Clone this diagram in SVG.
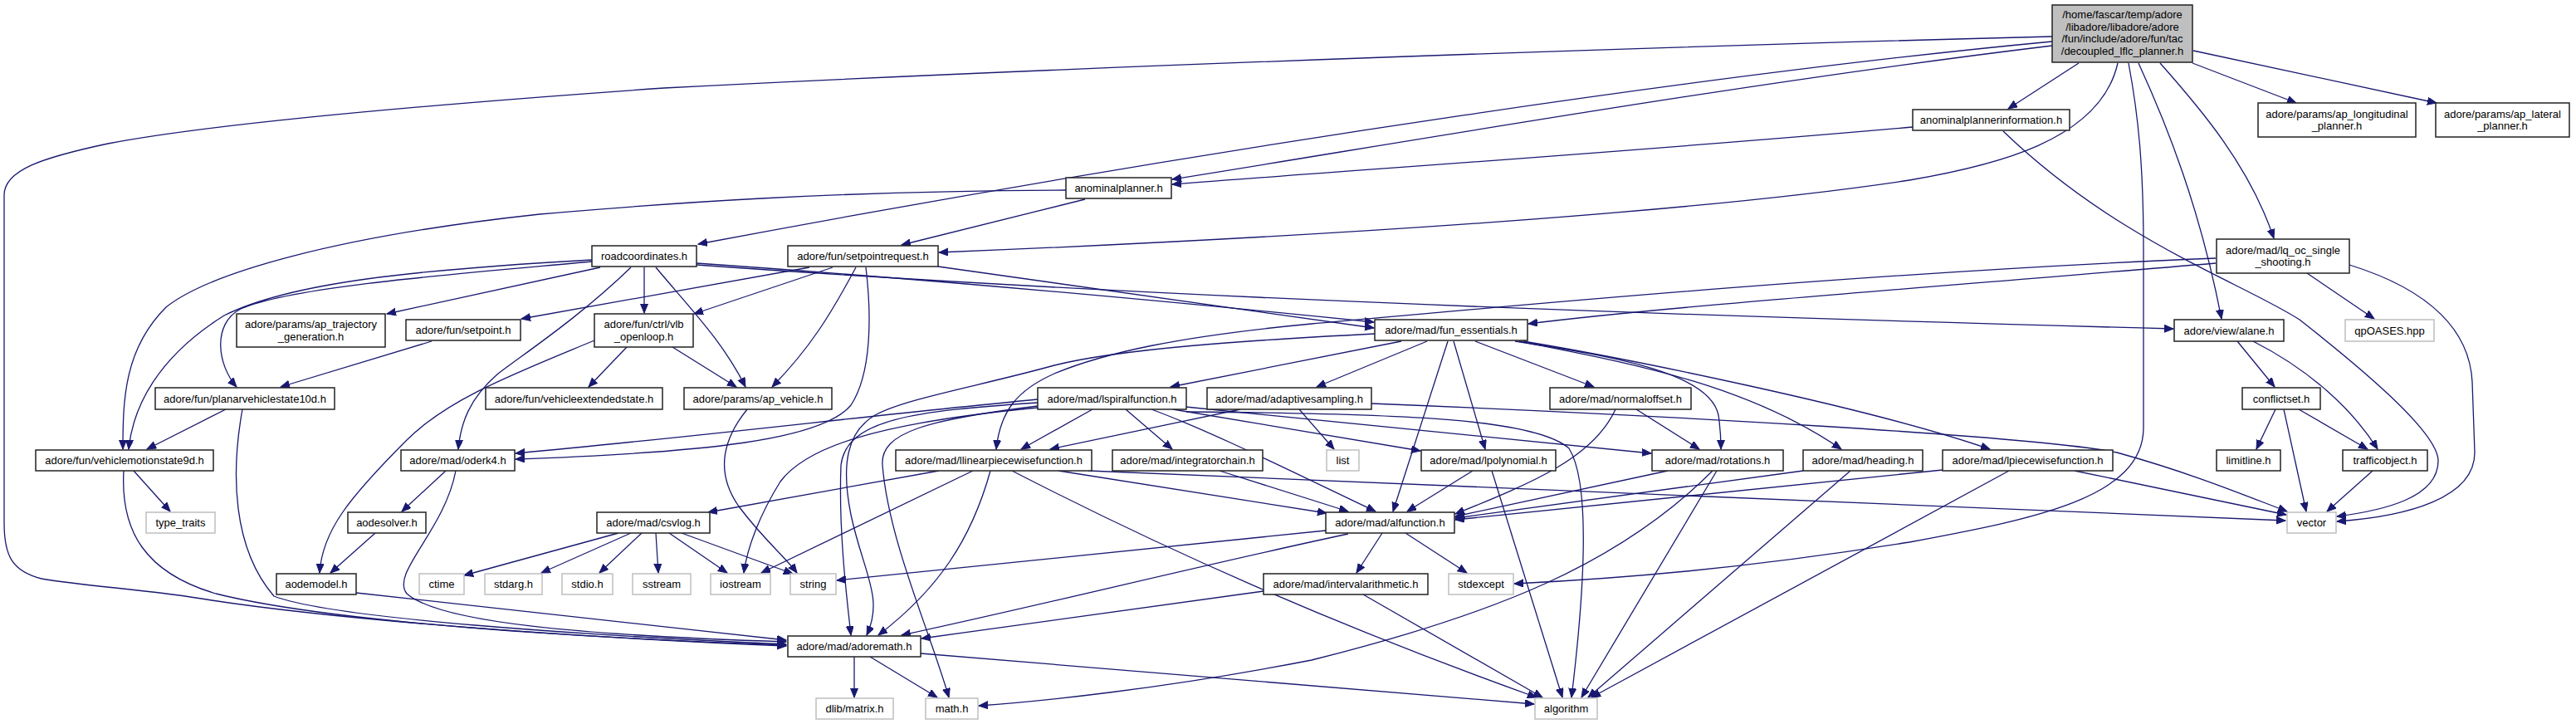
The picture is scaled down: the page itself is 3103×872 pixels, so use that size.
<svg xmlns="http://www.w3.org/2000/svg" width="3103" height="872" viewBox="0 0 3103 872">
<style>
.e{fill:none;stroke:#191970;stroke-width:1.3;marker-end:url(#a)}
.n rect{fill:#fff;stroke:#222;stroke-width:1.5}
.g rect{fill:#fff;stroke:#bfbfbf;stroke-width:1.5}
.r rect{fill:#bfbfbf;stroke:#222;stroke-width:1.5}
text{font-family:"Liberation Sans",Arial,sans-serif;font-size:13px;fill:#000;text-anchor:middle}
</style>
<defs>
<marker id="a" markerUnits="userSpaceOnUse" markerWidth="12" markerHeight="10" refX="11" refY="4.5" orient="auto"><path d="M0,0 L11,4.5 L0,9 z" fill="#191970" stroke="#191970" stroke-width="1"/></marker>
</defs>
<rect width="3103" height="872" fill="#fff"/>
<g id="edges">
<path class="e" d="M2472,44 C2000,56 1300,80 800,106 C500,127 250,150 130,173 C50,190 5,205 5,235 L5,630 C5,670 15,688 50,697 C110,707 180,710 255,723 C420,748 700,768 947,778"/>
<path class="e" d="M2472,50 C2100,85 1500,170 841,294"/>
<path class="e" d="M2472,55 C2100,100 1700,170 1412,216"/>
<path class="e" d="M2304,153 C2000,180 1700,200 1412,222"/>
<path class="e" d="M2551,76 C2530,170 2400,200 2300,217 C2050,255 1600,285 1131,304"/>
<path class="e" d="M2504,76 L2419,131"/>
<path class="e" d="M2564,76 C2576,140 2582,200 2582,300 L2582,515 C2582,600 2450,625 2300,653 C2100,685 1950,697 1824,703"/>
<path class="e" d="M2576,76 C2610,150 2650,250 2676,384"/>
<path class="e" d="M2602,76 C2650,130 2710,200 2739,287"/>
<path class="e" d="M2641,76 L2766,124"/>
<path class="e" d="M2642,61 L2935,124"/>
<path class="e" d="M2413,158 C2550,290 2700,340 2770,385 C2840,440 2937,520 2937,555 C2937,600 2870,615 2815,622"/>
<path class="e" d="M1307,240 L1086,295"/>
<path class="e" d="M1284,229 C1000,230 800,245 650,258 C400,285 250,330 200,370 C150,420 148,480 148,541"/>
<path class="e" d="M713,313 C500,325 350,340 270,380 C190,430 160,490 155,541"/>
<path class="e" d="M713,315 C550,330 350,345 290,372 C255,390 262,440 285,466"/>
<path class="e" d="M723,322 L466,378"/>
<path class="e" d="M776,322 L776,377"/>
<path class="e" d="M760,322 C700,380 640,420 600,450 C565,480 555,510 552,541"/>
<path class="e" d="M790,322 C830,370 870,410 898,466"/>
<path class="e" d="M839,317 C1100,335 1400,362 1655,388"/>
<path class="e" d="M839,319 C1200,345 1700,372 2618,396"/>
<path class="e" d="M975,322 L628,384"/>
<path class="e" d="M1003,322 L836,378"/>
<path class="e" d="M1031,322 C1000,380 975,420 930,466"/>
<path class="e" d="M1043,322 C1050,380 1050,450 1025,488 C990,530 850,545 621,553"/>
<path class="e" d="M1130,321 L1655,395"/>
<path class="e" d="M520,411 L338,466"/>
<path class="e" d="M716,410 C620,450 540,480 490,530 C420,600 388,640 385,690"/>
<path class="e" d="M755,418 L709,466"/>
<path class="e" d="M810,418 L887,466"/>
<path class="e" d="M900,493 C870,530 862,570 890,610 C920,650 945,670 960,690"/>
<path class="e" d="M272,493 L177,541"/>
<path class="e" d="M292,493 C278,570 280,660 330,718 C400,745 700,765 947,776"/>
<path class="e" d="M161,567 L205,616"/>
<path class="e" d="M149,567 C145,640 175,690 260,715 C400,750 700,768 947,777"/>
<path class="e" d="M537,567 L484,616"/>
<path class="e" d="M549,567 C535,640 470,690 490,715 C530,750 700,765 947,773"/>
<path class="e" d="M452,642 L398,690"/>
<path class="e" d="M429,714 L947,771"/>
<path class="e" d="M745,642 L559,693"/>
<path class="e" d="M760,642 L652,690"/>
<path class="e" d="M773,642 L722,690"/>
<path class="e" d="M790,642 L793,690"/>
<path class="e" d="M806,642 L876,690"/>
<path class="e" d="M821,642 L955,691"/>
<path class="e" d="M1029,791 L1029,840"/>
<path class="e" d="M1048,791 L1129,840"/>
<path class="e" d="M1109,787 L1848,848"/>
<path class="e" d="M1250,485 C1100,495 1020,505 1013,560 C1010,640 1020,720 1025,765"/>
<path class="e" d="M1250,489 C1120,505 1060,520 1063,560 C1070,650 1120,760 1143,840"/>
<path class="e" d="M1250,491 C1050,510 970,540 940,580 C915,620 900,660 896,690"/>
<path class="e" d="M1250,481 C1050,500 850,525 621,546"/>
<path class="e" d="M1316,493 L1230,541"/>
<path class="e" d="M1356,493 L1412,541"/>
<path class="e" d="M1387,493 C1460,520 1560,570 1657,616"/>
<path class="e" d="M1413,493 L1711,543"/>
<path class="e" d="M1428,490 L1989,546"/>
<path class="e" d="M1429,496 C1700,498 1850,505 1890,540 C1915,580 1910,700 1893,840"/>
<path class="e" d="M1494,493 L1265,541"/>
<path class="e" d="M1565,493 L1607,541"/>
<path class="e" d="M1652,486 C2000,500 2450,525 2550,545 C2640,570 2700,595 2755,616"/>
<path class="e" d="M1131,567 L853,617"/>
<path class="e" d="M1172,567 L917,690"/>
<path class="e" d="M1193,567 C1170,650 1130,710 1058,765"/>
<path class="e" d="M1219,567 C1400,660 1600,750 1851,840"/>
<path class="e" d="M1275,567 L1598,618"/>
<path class="e" d="M1311,567 C1500,577 2000,600 2753,627"/>
<path class="e" d="M1469,567 L1624,616"/>
<path class="e" d="M1688,411 L1410,466"/>
<path class="e" d="M1719,411 L1586,466"/>
<path class="e" d="M1744,411 L1678,616"/>
<path class="e" d="M1751,411 L1789,541"/>
<path class="e" d="M1777,411 L1920,466"/>
<path class="e" d="M1825,411 C1950,430 2060,450 2070,500 C2073,520 2073,530 2073,541"/>
<path class="e" d="M1830,411 C1950,435 2100,460 2218,541"/>
<path class="e" d="M1835,411 C1950,430 2250,490 2397,541"/>
<path class="e" d="M1656,402 C1500,410 1350,420 1270,440 C1180,465 1090,480 1054,500 C1020,520 1013,560 1025,620 C1040,690 1065,720 1044,765"/>
<path class="e" d="M2669,311 C2200,330 1700,380 1580,390 C1420,405 1330,425 1270,450 C1225,470 1205,495 1200,541"/>
<path class="e" d="M2669,317 C2300,348 2000,370 1841,390"/>
<path class="e" d="M2779,329 L2860,384"/>
<path class="e" d="M2830,319 C2930,350 2975,400 2978,460 L2981,545 C2981,600 2900,622 2815,628"/>
<path class="e" d="M1946,493 C1920,550 1850,580 1753,619"/>
<path class="e" d="M1971,493 L2047,541"/>
<path class="e" d="M2009,567 L1753,622"/>
<path class="e" d="M2063,567 C1950,680 1800,740 1580,795 C1400,830 1250,845 1179,850"/>
<path class="e" d="M2068,567 L1905,840"/>
<path class="e" d="M2172,567 L1753,624"/>
<path class="e" d="M2229,567 L1913,840"/>
<path class="e" d="M2340,566 L1753,626"/>
<path class="e" d="M2420,567 L1917,840"/>
<path class="e" d="M2499,567 L2754,620"/>
<path class="e" d="M1774,567 L1695,616"/>
<path class="e" d="M1797,567 L1882,840"/>
<path class="e" d="M1597,639 L1008,699"/>
<path class="e" d="M1624,643 C1450,680 1250,730 1086,765"/>
<path class="e" d="M1665,642 L1634,690"/>
<path class="e" d="M1693,642 L1767,690"/>
<path class="e" d="M1522,712 L1110,769"/>
<path class="e" d="M1642,716 L1858,840"/>
<path class="e" d="M2695,411 L2740,466"/>
<path class="e" d="M2714,411 C2785,447 2835,495 2864,541"/>
<path class="e" d="M2741,493 L2718,541"/>
<path class="e" d="M2751,493 L2778,616"/>
<path class="e" d="M2769,493 L2852,541"/>
<path class="e" d="M2858,567 L2803,616"/>
</g>
<g id="n_root" class="r"><rect x="2472" y="6" width="169" height="69"/><text x="2556.5" y="22">/home/fascar/temp/adore</text><text x="2556.5" y="36.7">/libadore/libadore/adore</text><text x="2556.5" y="51.4">/fun/include/adore/fun/tac</text><text x="2556.5" y="66">/decoupled_lflc_planner.h</text></g>
<g id="n_apinfo" class="n"><rect x="2304" y="132" width="189" height="25"/><text x="2398.5" y="149">anominalplannerinformation.h</text></g>
<g id="n_aplong" class="n"><rect x="2720" y="124" width="190" height="41"/><text x="2815" y="141.6">adore/params/ap_longitudinal</text><text x="2815" y="156.3">_planner.h</text></g>
<g id="n_aplat" class="n"><rect x="2934" y="124" width="161" height="41"/><text x="3014.5" y="141.6">adore/params/ap_lateral</text><text x="3014.5" y="156.3">_planner.h</text></g>
<g id="n_anominal" class="n"><rect x="1284" y="214" width="127" height="25"/><text x="1347.5" y="231">anominalplanner.h</text></g>
<g id="n_road" class="n"><rect x="713" y="296" width="126" height="25"/><text x="776" y="313">roadcoordinates.h</text></g>
<g id="n_spreq" class="n"><rect x="949" y="296" width="181" height="25"/><text x="1039.5" y="313">adore/fun/setpointrequest.h</text></g>
<g id="n_lqoc" class="n"><rect x="2670" y="288" width="160" height="41"/><text x="2750" y="305.6">adore/mad/lq_oc_single</text><text x="2750" y="320.3">_shooting.h</text></g>
<g id="n_aptraj" class="n"><rect x="285" y="378" width="179" height="40"/><text x="374.5" y="395.1">adore/params/ap_trajectory</text><text x="374.5" y="409.9">_generation.h</text></g>
<g id="n_setpoint" class="n"><rect x="489" y="385" width="138" height="25"/><text x="558" y="402">adore/fun/setpoint.h</text></g>
<g id="n_vlb" class="n"><rect x="716" y="378" width="119" height="40"/><text x="775.5" y="395.1">adore/fun/ctrl/vlb</text><text x="775.5" y="409.9">_openloop.h</text></g>
<g id="n_funess" class="n"><rect x="1656" y="385" width="184" height="25"/><text x="1748" y="402">adore/mad/fun_essentials.h</text></g>
<g id="n_alane" class="n"><rect x="2619" y="385" width="132" height="26"/><text x="2685" y="402.5">adore/view/alane.h</text></g>
<g id="n_qpoases" class="g"><rect x="2825" y="385" width="107" height="26"/><text x="2878.5" y="402.5">qpOASES.hpp</text></g>
<g id="n_planar" class="n"><rect x="187" y="467" width="216" height="26"/><text x="295" y="484.5">adore/fun/planarvehiclestate10d.h</text></g>
<g id="n_vext" class="n"><rect x="585" y="467" width="213" height="26"/><text x="691.5" y="484.5">adore/fun/vehicleextendedstate.h</text></g>
<g id="n_apveh" class="n"><rect x="824" y="467" width="178" height="26"/><text x="913" y="484.5">adore/params/ap_vehicle.h</text></g>
<g id="n_lspiral" class="n"><rect x="1250" y="467" width="179" height="26"/><text x="1339.5" y="484.5">adore/mad/lspiralfunction.h</text></g>
<g id="n_adaptive" class="n"><rect x="1454" y="467" width="198" height="26"/><text x="1553" y="484.5">adore/mad/adaptivesampling.h</text></g>
<g id="n_normal" class="n"><rect x="1867" y="467" width="170" height="26"/><text x="1952" y="484.5">adore/mad/normaloffset.h</text></g>
<g id="n_conflict" class="n"><rect x="2701" y="467" width="94" height="26"/><text x="2748" y="484.5">conflictset.h</text></g>
<g id="n_vm9d" class="n"><rect x="43" y="542" width="214" height="25"/><text x="150" y="559">adore/fun/vehiclemotionstate9d.h</text></g>
<g id="n_oderk4" class="n"><rect x="483" y="542" width="137" height="25"/><text x="551.5" y="559">adore/mad/oderk4.h</text></g>
<g id="n_llinear" class="n"><rect x="1079" y="542" width="236" height="25"/><text x="1197" y="559">adore/mad/llinearpiecewisefunction.h</text></g>
<g id="n_integ" class="n"><rect x="1340" y="542" width="181" height="25"/><text x="1430.5" y="559">adore/mad/integratorchain.h</text></g>
<g id="n_list" class="g"><rect x="1598" y="542" width="39" height="25"/><text x="1617.5" y="559">list</text></g>
<g id="n_lpoly" class="n"><rect x="1712" y="542" width="162" height="25"/><text x="1793" y="559">adore/mad/lpolynomial.h</text></g>
<g id="n_rot" class="n"><rect x="1990" y="542" width="158" height="25"/><text x="2069" y="559">adore/mad/rotations.h</text></g>
<g id="n_heading" class="n"><rect x="2172" y="542" width="144" height="25"/><text x="2244" y="559">adore/mad/heading.h</text></g>
<g id="n_lpiece" class="n"><rect x="2340" y="542" width="205" height="25"/><text x="2442.5" y="559">adore/mad/lpiecewisefunction.h</text></g>
<g id="n_limit" class="n"><rect x="2670" y="542" width="77" height="25"/><text x="2708.5" y="559">limitline.h</text></g>
<g id="n_traffic" class="n"><rect x="2822" y="542" width="102" height="25"/><text x="2873" y="559">trafficobject.h</text></g>
<g id="n_typetraits" class="g"><rect x="176" y="617" width="83" height="25"/><text x="217.5" y="634">type_traits</text></g>
<g id="n_aodesolver" class="n"><rect x="419" y="617" width="94" height="25"/><text x="466" y="634">aodesolver.h</text></g>
<g id="n_csvlog" class="n"><rect x="719" y="617" width="136" height="25"/><text x="787" y="634">adore/mad/csvlog.h</text></g>
<g id="n_alfunc" class="n"><rect x="1597" y="617" width="155" height="25"/><text x="1674.5" y="634">adore/mad/alfunction.h</text></g>
<g id="n_vector" class="g"><rect x="2755" y="617" width="59" height="25"/><text x="2784.5" y="634">vector</text></g>
<g id="n_aodemodel" class="n"><rect x="333" y="691" width="96" height="25"/><text x="381" y="708">aodemodel.h</text></g>
<g id="n_ctime" class="g"><rect x="505" y="691" width="54" height="25"/><text x="532" y="708">ctime</text></g>
<g id="n_stdarg" class="g"><rect x="584" y="691" width="69" height="25"/><text x="618.5" y="708">stdarg.h</text></g>
<g id="n_stdio" class="g"><rect x="677" y="691" width="61" height="25"/><text x="707.5" y="708">stdio.h</text></g>
<g id="n_sstream" class="g"><rect x="762" y="691" width="70" height="25"/><text x="797" y="708">sstream</text></g>
<g id="n_iostream" class="g"><rect x="856" y="691" width="72" height="25"/><text x="892" y="708">iostream</text></g>
<g id="n_string" class="g"><rect x="952" y="691" width="55" height="25"/><text x="979.5" y="708">string</text></g>
<g id="n_interval" class="n"><rect x="1522" y="691" width="198" height="25"/><text x="1621" y="708">adore/mad/intervalarithmetic.h</text></g>
<g id="n_stdexcept" class="g"><rect x="1745" y="691" width="78" height="25"/><text x="1784" y="708">stdexcept</text></g>
<g id="n_adoremath" class="n"><rect x="949" y="766" width="160" height="25"/><text x="1029" y="783">adore/mad/adoremath.h</text></g>
<g id="n_dlib" class="g"><rect x="983" y="841" width="93" height="25"/><text x="1029.5" y="858">dlib/matrix.h</text></g>
<g id="n_math" class="g"><rect x="1115" y="841" width="63" height="25"/><text x="1146.5" y="858">math.h</text></g>
<g id="n_algorithm" class="g"><rect x="1849" y="841" width="75" height="25"/><text x="1886.5" y="858">algorithm</text></g>
</svg>
